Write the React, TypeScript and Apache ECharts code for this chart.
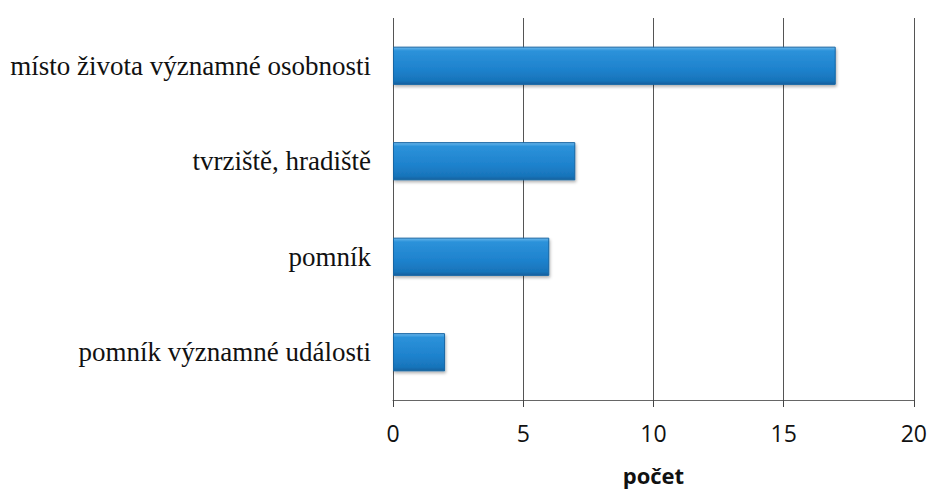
import React, { useEffect, useRef } from "react";
import * as echarts from "echarts";

const categories = [
  "pomník významné události",
  "pomník",
  "tvrziště, hradiště",
  "místo života významné osobnosti",
];
const values = [2, 6, 7, 17];
const axisName = "počet";

export default function App() {
  const ref = useRef<HTMLDivElement>(null);
  useEffect(() => {
    if (!ref.current) return;
    const chart = echarts.init(ref.current, undefined, { renderer: "svg" });
    chart.setOption({
      animation: false,
      backgroundColor: "#ffffff",
      grid: { left: 393, right: 16, top: 18, bottom: 86, containLabel: false },
      xAxis: {
        type: "value",
        min: 0,
        max: 20,
        interval: 5,
        name: axisName,
        nameLocation: "middle",
        nameGap: 64,
        nameTextStyle: { fontFamily: "'Open Sans', sans-serif", fontSize: 22, fontWeight: "bold", color: "#111" },
        axisLine: { show: true, lineStyle: { color: "#666", width: 1 } },
        axisTick: { show: true, length: 7, lineStyle: { color: "#444" } },
        axisLabel: { fontFamily: "'Open Sans', sans-serif", fontSize: 23, color: "#111", margin: 21 },
        splitLine: { show: true, lineStyle: { color: "#555", width: 1 } },
      },
      yAxis: {
        type: "category",
        data: categories,
        axisLine: { show: false },
        axisTick: { show: false },
        axisLabel: { fontFamily: "'Liberation Serif', 'DejaVu Serif', serif", fontSize: 27, color: "#111", margin: 22 },
      },
      series: [
        {
          type: "bar",
          data: values,
          barCategoryGap: "60%",
          itemStyle: {
            color: new echarts.graphic.LinearGradient(0, 0, 0, 1, [
              { offset: 0, color: "#6ab8ec" },
              { offset: 0.1, color: "#2c92da" },
              { offset: 0.6, color: "#1e82cd" },
              { offset: 0.9, color: "#1874ba" },
              { offset: 1, color: "#12609e" },
            ]),
            borderColor: "#1565a3",
            borderWidth: 1,
            shadowColor: "rgba(0,0,0,0.3)",
            shadowBlur: 3,
            shadowOffsetY: 2,
            shadowOffsetX: 1,
          },
        },
      ],
    });
    return () => chart.dispose();
  }, []);
  return (
    <div
      ref={ref}
      style={{ position: "absolute", left: 0, top: 0, width: 930, height: 491 }}
    />
  );
}
